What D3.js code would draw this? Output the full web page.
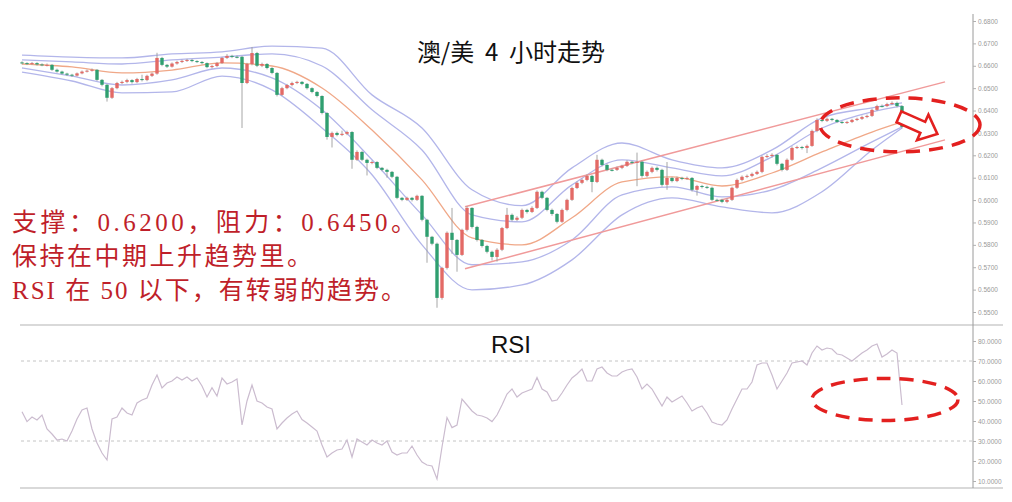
<!DOCTYPE html>
<html><head><meta charset="utf-8">
<script src="https://cdn.jsdelivr.net/npm/d3@7"></script>
<style>html,body{margin:0;padding:0;background:#fff;overflow:hidden}</style>
</head><body>
<svg id="c" width="1012" height="502"></svg>
<script>
// ---- data (prices in 1/10000) ----
const opens = [6615,6612,6608,6612,6606,6603,6604,6582,6574,6565,
 6560,6556,6566,6574,6578,6582,6537,6515,6457,6500,
 6523,6528,6536,6527,6541,6536,6555,6565,6635,6604,
 6596,6610,6617,6622,6626,6621,6617,6612,6594,6599,
 6612,6635,6644,6640,6640,6523,6608,6657,6600,6608,
 6590,6568,6470,6500,6514,6523,6528,6519,6500,6483,
 6465,6389,6282,6300,6291,6296,6304,6180,6215,6180,
 6166,6170,6144,6135,6126,6104,6010,6001,6010,6001,
 6019,5912,5836,5805,5563,5697,5854,5822,5755,5867,
 5965,5880,5822,5795,5769,5746,5778,5875,5934,5912,
 5921,5956,5947,5965,6037,6010,5956,5938,5903,5956,
 6001,6054,6077,6090,6108,6081,6180,6157,6135,6135,
 6144,6153,6171,6166,6171,6108,6126,6144,6135,6068,
 6099,6085,6099,6095,6099,6046,6063,6059,6055,6001,
 6001,5992,6001,6055,6090,6104,6108,6117,6126,6193,
 6197,6202,6162,6135,6180,6233,6237,6233,6242,6309,
 6358,6354,6363,6358,6349,6345,6349,6358,6363,6371,
 6376,6403,6420,6420,6429,6434,6420];
const highs = [6620,6616,6617,6616,6611,6610,6608,6587,6578,6569,
 6564,6570,6579,6583,6588,6585,6541,6518,6505,6528,
 6534,6542,6540,6546,6560,6560,6570,6658,6640,6608,
 6615,6622,6627,6631,6630,6625,6621,6615,6604,6617,
 6640,6652,6649,6646,6644,6613,6684,6662,6614,6612,
 6594,6572,6506,6519,6529,6533,6532,6523,6504,6487,
 6468,6393,6306,6306,6310,6310,6308,6222,6220,6185,
 6176,6174,6148,6140,6130,6108,6014,6015,6014,6024,
 6022,5916,5840,5810,5702,5860,5965,5826,5872,5972,
 5968,5885,5826,5800,5774,5785,5880,5965,5940,5928,
 5962,5961,5972,6043,6042,6014,5962,5942,5962,6006,
 6060,6083,6096,6114,6112,6202,6185,6162,6141,6150,
 6158,6178,6175,6212,6176,6132,6150,6150,6140,6170,
 6104,6105,6104,6105,6103,6068,6068,6064,6060,6006,
 6006,6007,6060,6096,6110,6114,6123,6132,6199,6205,
 6209,6206,6166,6186,6240,6243,6242,6248,6315,6365,
 6362,6369,6367,6362,6353,6354,6363,6368,6377,6382,
 6409,6426,6427,6435,6441,6440,6424];
const lows = [6606,6603,6604,6601,6598,6597,6577,6569,6560,6554,
 6550,6552,6562,6570,6574,6532,6508,6440,6452,6495,
 6518,6522,6520,6522,6530,6531,6550,6560,6598,6590,
 6592,6605,6612,6617,6616,6612,6606,6589,6588,6594,
 6608,6630,6634,6633,6322,6518,6602,6594,6594,6584,
 6562,6463,6465,6495,6508,6518,6513,6494,6477,6459,
 6383,6270,6235,6285,6286,6290,6140,6175,6174,6110,
 6160,6138,6129,6100,6098,6004,5995,5996,5994,5996,
 5905,5720,5798,5519,5555,5690,5760,5680,5750,5860,
 5873,5815,5788,5762,5730,5725,5772,5870,5905,5906,
 5915,5940,5942,5960,6004,5950,5930,5896,5898,5950,
 5996,6049,6071,6084,6035,6076,6150,6129,6128,6130,
 6138,6148,6160,6062,6100,6102,6120,6128,6060,6046,
 6079,6080,6089,6090,6038,6020,6052,6050,5995,5994,
 5986,5986,5996,6050,6084,6098,6102,6112,6120,6188,
 6190,6155,6128,6130,6175,6228,6226,6210,6238,6303,
 6348,6349,6352,6344,6340,6340,6344,6353,6358,6366,
 6371,6398,6414,6415,6424,6414,6320];
const closes = [6612,6608,6612,6606,6603,6604,6582,6574,6565,6560,
 6556,6566,6574,6578,6582,6537,6515,6457,6500,6523,
 6528,6536,6527,6541,6536,6555,6565,6635,6604,6596,
 6610,6617,6622,6626,6621,6617,6612,6594,6599,6612,
 6635,6644,6640,6640,6523,6608,6657,6600,6608,6590,
 6568,6470,6500,6514,6523,6528,6519,6500,6483,6465,
 6389,6282,6300,6291,6296,6304,6180,6215,6180,6166,
 6170,6144,6135,6126,6104,6010,6001,6010,6001,6019,
 5912,5836,5805,5563,5697,5854,5822,5755,5867,5965,
 5880,5822,5795,5769,5746,5778,5875,5934,5912,5921,
 5956,5947,5965,6037,6010,5956,5938,5903,5956,6001,
 6054,6077,6090,6108,6081,6180,6157,6135,6135,6144,
 6153,6171,6166,6171,6108,6126,6144,6135,6068,6099,
 6085,6099,6095,6099,6046,6063,6059,6055,6001,6001,
 5992,6001,6055,6090,6104,6108,6117,6126,6193,6197,
 6202,6162,6135,6180,6233,6237,6233,6242,6309,6358,
 6354,6363,6358,6349,6345,6349,6358,6363,6371,6376,
 6403,6420,6420,6429,6434,6420,6327];
const rsi = [44.6,39.7,42,40.5,43,36,33.5,30.5,31,30,
 35,41,45.5,46.5,36,29,24,20.5,41,42,
 46.5,44,43,49,50.5,51.5,58,63,56.5,59,
 60,62,60.5,62,60,61.5,57.5,52,56.7,52.5,
 61.5,58.5,59.5,61,38,50,58,50,49,47,
 46,36,39,41.5,43.5,45,40.7,39,37,35,
 28,22,24,25.5,26,30.5,22,31,29.5,28,
 30.5,29,28,30,24.5,23,24,24,27.5,23,
 19.5,18,17.5,11,27,41.7,36.7,38,51,48,
 45,43,42.5,41.5,39.7,43,48,53.5,56,52,
 54,55,56,61.7,56,54.5,50,50.5,54,58,
 61.5,63.5,66,60,60,66,67,64,62.5,62.5,
 64.5,65.5,66,62,56,58.5,56,51.7,47.5,52,
 49.5,51,52.5,49,45,46.5,47.5,44,39.5,38.5,
 38,40.5,46,51,56,56,59.5,68,69,69,
 63,56,60,64,69,69.5,70,68,74,77.5,
 75.5,76.5,76,73.5,73,71.5,70,72,74,75.5,
 77.5,78.5,72,73.5,75.5,74,48];
// Bollinger-style envelopes read at every 10th bar
const bandIdx   = [0,10,20,30,40,50,60,70,80,90,100,110,120,130,140,150,160,170,176];
const bandUpper2= [6648,6639,6635,6653,6662,6688,6679,6470,6322,6046,5975,6144,6255,6180,6144,6224,6367,6412,6434];
const bandUpper1= [6626,6617,6608,6626,6639,6653,6599,6403,6224,5934,5903,6068,6180,6144,6108,6193,6322,6394,6421];
const bandMid   = [6608,6595,6568,6581,6613,6599,6501,6313,6090,5831,5800,5921,6081,6104,6063,6121,6215,6304,6349];
const bandLower1= [6590,6554,6514,6537,6590,6546,6403,6180,5934,5711,5724,5822,6023,6059,6014,6046,6144,6260,6327];
const bandLower2= [6572,6532,6479,6483,6554,6492,6322,6113,5800,5599,5621,5733,5934,6010,5970,5943,6037,6224,6322];
// trend channel (bar index, price)
const channelIdx   = [88.6, 184.6];
const channelUpper = [5970, 6528];
const channelLower = [5693, 6269];
const priceTicks = [5500,5600,5700,5800,5900,6000,6100,6200,6300,6400,6500,6600,6700,6800];
const rsiTicks = [10,20,30,40,50,60,70,80];
const rsiGuides = [30,70];
const titleText = "澳/美  4  小时走势";
const notes = ["支撑：0.6200，阻力：0.6450。","保持在中期上升趋势里。","RSI 在 50 以下，有转弱的趋势。"];

// ---- drawing ----
const svg = d3.select("#c");
const N = closes.length;
const x = d3.scaleLinear().domain([0, N-1]).range([22, 902]);
const yP = d3.scaleLinear().domain([5500, 6800]).range([312, 21]);
const yR = d3.scaleLinear().domain([10, 80]).range([481, 341]);
const axisX = 973;

// panel frame lines
const frame = svg.append("g").attr("stroke", "#b4b4b4").attr("stroke-width", 1.2);
frame.append("line").attr("x1", 20).attr("x2", 1003).attr("y1", 325).attr("y2", 325);
frame.append("line").attr("x1", 20).attr("x2", 1003).attr("y1", 488).attr("y2", 488);
frame.append("line").attr("x1", axisX).attr("x2", axisX).attr("y1", 14).attr("y2", 488).attr("stroke","#9a9a9a").attr("stroke-width",1);

// bands
const bandLine = d3.line().x(d => x(d[0])).y(d => yP(d[1])).curve(d3.curveMonotoneX);
const bandSets = [
  {v: bandUpper2, c: "#b3b6ea"}, {v: bandUpper1, c: "#b3b6ea"},
  {v: bandLower1, c: "#b3b6ea"}, {v: bandLower2, c: "#b3b6ea"},
  {v: bandMid, c: "#f0a888"}];
bandSets.forEach(b => {
  svg.append("path").attr("d", bandLine(bandIdx.map((k, j) => [k, b.v[j]])))
    .attr("fill", "none").attr("stroke", b.c).attr("stroke-width", 1.3);
});

// channel lines
[channelUpper, channelLower].forEach(ch => {
  svg.append("path").attr("d", d3.line().x(d => x(d[0])).y(d => yP(d[1]))(channelIdx.map((k, j) => [k, ch[j]])))
    .attr("fill", "none").attr("stroke", "#f09a9a").attr("stroke-width", 1.5);
});

// candles
const cw = 3.4;
const cg = svg.append("g");
d3.range(N).forEach(i => {
  const o = opens[i], c = closes[i];
  const up = c > o;
  const col = up ? "#e36a66" : "#2f9f70";
  cg.append("line").attr("x1", x(i)).attr("x2", x(i)).attr("y1", yP(highs[i])).attr("y2", yP(lows[i]))
    .attr("stroke", "#9c9c9c").attr("stroke-width", 0.9);
  const top = yP(Math.max(o, c)), h = Math.max(1, Math.abs(yP(o) - yP(c)));
  cg.append("rect").attr("x", x(i) - cw/2).attr("y", top).attr("width", cw).attr("height", h).attr("fill", col);
});

// price axis
const ax1 = svg.append("g").attr("transform", `translate(${axisX},0)`)
  .call(d3.axisRight(yP).tickValues(priceTicks).tickFormat(d => (d/10000).toFixed(4)).tickSize(3).tickPadding(2));
// rsi guides
svg.append("g").selectAll("line").data(rsiGuides).join("line")
  .attr("x1", 21).attr("x2", axisX).attr("y1", d => yR(d)).attr("y2", d => yR(d))
  .attr("stroke", "#c4c4c4").attr("stroke-dasharray", "3,3").attr("stroke-width", 1);
// rsi line
svg.append("path").attr("d", d3.line().x((d, i) => x(i)).y(d => yR(d))(rsi))
  .attr("fill", "none").attr("stroke", "#cbbccf").attr("stroke-width", 1.2);
const ax2 = svg.append("g").attr("transform", `translate(${axisX},0)`)
  .call(d3.axisRight(yR).tickValues(rsiTicks).tickFormat(d => d.toFixed(4)).tickSize(3).tickPadding(2));
[ax1, ax2].forEach(a => {
  a.select(".domain").remove();
  a.selectAll("line").attr("stroke", "#b0b0b0");
  a.selectAll("text").attr("fill", "#9a9a9a").attr("font-size", "6.5px").attr("font-family", "Liberation Sans, Arial, sans-serif");
});

// titles
svg.append("text").attr("x", 511).attr("y", 61).attr("text-anchor", "middle")
  .attr("font-family", "'Noto Sans CJK SC', sans-serif").attr("font-size", 24).attr("fill", "#111")
  .style("white-space", "pre").text(titleText);
svg.append("text").attr("x", 511).attr("y", 353).attr("text-anchor", "middle")
  .attr("font-family", "'Liberation Sans', Arial, sans-serif").attr("font-size", 24).attr("fill", "#111").text("RSI");

// notes
const noteY = [231, 265, 299];
const noteLen = [404, 300, 394];
notes.forEach((t, k) => {
  svg.append("text").attr("x", 12).attr("y", noteY[k])
    .attr("font-family", "'Liberation Serif', 'Noto Sans CJK SC', serif").attr("font-size", 25)
    .attr("fill", "#bf1f2a").attr("textLength", noteLen[k]).attr("lengthAdjust", "spacing").text(t);
});

// annotations: dashed ellipses and hollow arrow
const red = "#e3201f";
svg.append("ellipse").attr("cx", x(175.6)).attr("cy", yP(6336)).attr("rx", 80).attr("ry", 27)
  .attr("fill", "none").attr("stroke", red).attr("stroke-width", 3.5).attr("stroke-dasharray", "14,9");
svg.append("ellipse").attr("cx", x(172.6)).attr("cy", yR(50.8)).attr("rx", 73).attr("ry", 21)
  .attr("fill", "none").attr("stroke", red).attr("stroke-width", 3.5).attr("stroke-dasharray", "14,9");
const arrowPts = [[0,-6],[26,-6],[26,-14],[42,0],[26,14],[26,6],[0,6]];
svg.append("polygon").attr("points", arrowPts.map(p => p.join(",")).join(" "))
  .attr("transform", `translate(${x(175.4)},${yP(6372)}) rotate(24)`)
  .attr("fill", "#fff").attr("stroke", red).attr("stroke-width", 2.6).attr("stroke-linejoin", "miter");
</script>
</body></html>
